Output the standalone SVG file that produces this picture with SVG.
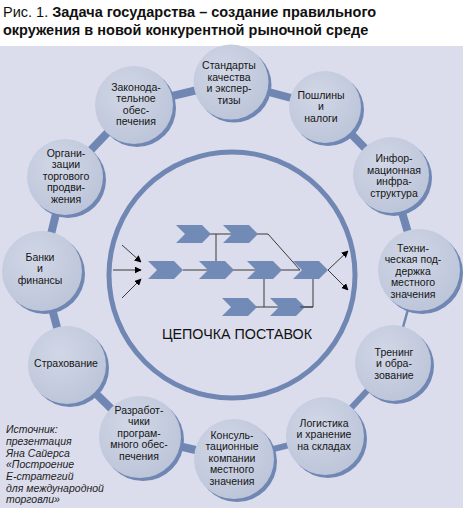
<svg xmlns="http://www.w3.org/2000/svg" width="463" height="511" viewBox="0 0 463 511">
<defs>
<style>
.t{font-family:"Liberation Sans",Arial,sans-serif;font-size:10.5px;fill:#151515;text-anchor:middle}
.bar{stroke:#7087b4;stroke-linecap:butt;fill:none}
.sh{fill:#7087b4}
.nd{fill:url(#g)}
.ln{stroke:#3a3a3a;stroke-width:1;fill:none}
.ch{fill:#728ab6}
</style>
<radialGradient id="g" cx="0.4" cy="0.35" r="0.7">
<stop offset="0" stop-color="#d1d7e6"/>
<stop offset="1" stop-color="#bcc4d9"/>
</radialGradient>
<path id="chev" d="M0,0 H26 L35,9 L26,18 H0 L9,9 Z"/>
<marker id="ah" viewBox="0 0 10 10" refX="9" refY="5" markerWidth="7" markerHeight="7" orient="auto" markerUnits="userSpaceOnUse">
<path d="M0,0 L10,5 L0,10 Z" fill="#000"/>
</marker>
</defs>
<rect x="0" y="0" width="463" height="511" fill="#fff"/>
<rect x="0" y="46" width="463" height="462" fill="#dcddec"/>
<text x="3" y="17" style="font-family:'Liberation Sans',Arial,sans-serif;font-size:14.5px;fill:#111"><tspan>Рис. 1. </tspan><tspan font-weight="bold">Задача государства – создание правильного</tspan></text>
<text x="3" y="35" style="font-family:'Liberation Sans',Arial,sans-serif;font-size:14.5px;font-weight:bold;fill:#111">окружения в новой конкурентной рыночной среде</text>

<g id="connectors">
<path class="bar" stroke-width="8" d="M231,82 L325,107 L391,175 L419,270"/>
<path class="bar" stroke-width="2.5" d="M419,270 L393,363"/>
<path class="bar" stroke-width="6" d="M393,363 L325,436 L234,459"/>
<path class="bar" stroke-width="8" d="M234,459 L140,437 L67,365 L42,271 L65,177 L134,105 L231,82"/>
</g>

<circle cx="232" cy="275" r="123" fill="none" stroke="#7087b4" stroke-width="5"/>

<g id="chain">
<path class="ln" d="M183,270 H300 M210,234 H268 L300,270 M216,234 V262 M264,279 V307 M252,307 H313 M313,279 V307"/>
<use href="#chev" class="ch" x="176" y="225"/>
<use href="#chev" class="ch" x="223" y="225"/>
<use href="#chev" class="ch" x="148" y="261"/>
<use href="#chev" class="ch" x="199" y="261"/>
<use href="#chev" class="ch" x="247" y="261"/>
<use href="#chev" class="ch" x="293" y="261"/>
<use href="#chev" class="ch" x="222" y="298"/>
<use href="#chev" class="ch" x="270" y="298"/>
<path class="ln" d="M313,307 H300" />
<path class="ln" marker-end="url(#ah)" d="M113,270 H141"/>
<path class="ln" marker-end="url(#ah)" d="M122,245 L141,262"/>
<path class="ln" marker-end="url(#ah)" d="M122,298 L141,279"/>
<path class="ln" marker-end="url(#ah)" d="M328,270 L348,251"/>
<path class="ln" marker-end="url(#ah)" d="M328,270 L348,290"/>
<text x="237" y="339" text-anchor="middle" textLength="150" lengthAdjust="spacingAndGlyphs" style="font-family:'Liberation Sans',Arial,sans-serif;font-size:14.5px;fill:#111">ЦЕПОЧКА ПОСТАВОК</text>
</g>

<g id="n1"><circle class="sh" cx="234" cy="85" r="37.5"/><circle class="nd" cx="231" cy="82" r="37.5"/>
<text class="t" x="229"><tspan x="229" y="69">Стандарты</tspan><tspan x="229" y="80.5">качества</tspan><tspan x="229" y="92">и экспер-</tspan><tspan x="229" y="103.5">тизы</tspan></text></g>

<g id="n2"><circle class="sh" cx="328" cy="110" r="36"/><circle class="nd" cx="325" cy="107" r="36"/>
<text class="t"><tspan x="321" y="98.5">Пошлины</tspan><tspan x="321" y="110">и</tspan><tspan x="321" y="121.5">налоги</tspan></text></g>

<g id="n3"><circle class="sh" cx="394" cy="178" r="38"/><circle class="nd" cx="391" cy="175" r="38"/>
<text class="t"><tspan x="394" y="162">Инфор-</tspan><tspan x="394" y="173.5">мационная</tspan><tspan x="394" y="185">инфра-</tspan><tspan x="394" y="196.5">структура</tspan></text></g>

<g id="n4"><circle class="sh" cx="422" cy="273" r="41"/><circle class="nd" cx="419" cy="270" r="41"/>
<text class="t"><tspan x="413" y="251.5">Техни-</tspan><tspan x="413" y="263">ческая под-</tspan><tspan x="413" y="274.5">держка</tspan><tspan x="413" y="286">местного</tspan><tspan x="413" y="297.5">значения</tspan></text></g>

<g id="n5"><circle class="sh" cx="396" cy="366" r="38"/><circle class="nd" cx="393" cy="363" r="38"/>
<text class="t"><tspan x="394" y="355.5">Тренинг</tspan><tspan x="394" y="367">и обра-</tspan><tspan x="394" y="378.5">зование</tspan></text></g>

<g id="n6"><circle class="sh" cx="328" cy="439" r="39"/><circle class="nd" cx="325" cy="436" r="39"/>
<text class="t"><tspan x="324" y="426.5">Логистика</tspan><tspan x="324" y="438">и хранение</tspan><tspan x="324" y="449.5">на складах</tspan></text></g>

<g id="n7"><circle class="sh" cx="237" cy="462" r="40"/><circle class="nd" cx="234" cy="459" r="40"/>
<text class="t"><tspan x="232" y="438.5">Консуль-</tspan><tspan x="232" y="450">тационные</tspan><tspan x="232" y="461.5">компании</tspan><tspan x="232" y="473">местного</tspan><tspan x="232" y="484.5">значения</tspan></text></g>

<g id="n8"><circle class="sh" cx="143" cy="440" r="41"/><circle class="nd" cx="140" cy="437" r="41"/>
<text class="t"><tspan x="139" y="413.5">Разработ-</tspan><tspan x="139" y="425">чики</tspan><tspan x="139" y="436.5">програм-</tspan><tspan x="139" y="448">много обес-</tspan><tspan x="139" y="459.5">печения</tspan></text></g>

<g id="n9"><circle class="sh" cx="70" cy="368" r="39"/><circle class="nd" cx="67" cy="365" r="39"/>
<text class="t"><tspan x="66" y="367">Страхование</tspan></text></g>

<g id="n10"><circle class="sh" cx="45" cy="274" r="40"/><circle class="nd" cx="42" cy="271" r="40"/>
<text class="t"><tspan x="40" y="260.5">Банки</tspan><tspan x="40" y="272">и</tspan><tspan x="40" y="283.5">финансы</tspan></text></g>

<g id="n11"><circle class="sh" cx="68" cy="180" r="38"/><circle class="nd" cx="65" cy="177" r="38"/>
<text class="t"><tspan x="66" y="156.5">Органи-</tspan><tspan x="66" y="168">зации</tspan><tspan x="66" y="179.5">торгового</tspan><tspan x="66" y="191">продви-</tspan><tspan x="66" y="202.5">жения</tspan></text></g>

<g id="n12"><circle class="sh" cx="137" cy="108" r="39"/><circle class="nd" cx="134" cy="105" r="39"/>
<text class="t"><tspan x="136" y="90.5">Законода-</tspan><tspan x="136" y="102">тельное</tspan><tspan x="136" y="113.5">обес-</tspan><tspan x="136" y="125">печения</tspan></text></g>

<text style="font-family:'Liberation Sans',Arial,sans-serif;font-size:10.5px;font-style:italic;fill:#222"><tspan x="6" y="433">Источник:</tspan><tspan x="6" y="445">презентация</tspan><tspan x="6" y="456.5">Яна Сайерса</tspan><tspan x="6" y="468">«Построение</tspan><tspan x="6" y="480">Е-стратегий</tspan><tspan x="6" y="491.5">для международной</tspan><tspan x="6" y="503">торговли»</tspan></text>
</svg>
